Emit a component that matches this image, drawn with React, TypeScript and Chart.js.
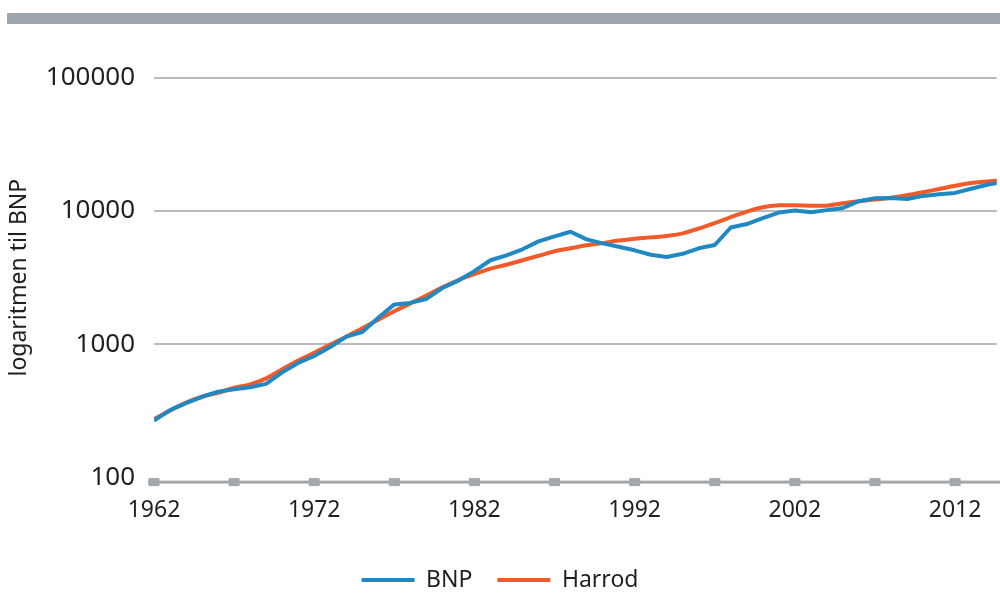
import React, { useEffect, useRef } from 'react';
import { Chart, registerables } from 'chart.js';

Chart.register(...registerables);

const years = [
  1962, 1963, 1964, 1965, 1966, 1967, 1968, 1969, 1970, 1971,
  1972, 1973, 1974, 1975, 1976, 1977, 1978, 1979, 1980, 1981,
  1982, 1983, 1984, 1985, 1986, 1987, 1988, 1989, 1990, 1991,
  1992, 1993, 1994, 1995, 1996, 1997, 1998, 1999, 2000, 2001,
  2002, 2003, 2004, 2005, 2006, 2007, 2008, 2009, 2010, 2011,
  2012, 2013, 2014, 2015,
];

const bnp = [
  268, 321, 362, 404, 441, 460, 476, 505, 616, 725,
  817, 953, 1141, 1237, 1580, 1992, 2045, 2189, 2644, 3006,
  3538, 4272, 4652, 5160, 5917, 6444, 6987, 6124, 5716, 5387,
  5070, 4693, 4520, 4776, 5250, 5556, 7520, 7984, 8828, 9727,
  10070, 9776, 10155, 10545, 11850, 12470, 12510, 12300, 12980, 13370,
  13670, 14690, 15740, 16560,
];

const harrod = [
  275, 318, 365, 404, 433, 472, 501, 555, 651, 756,
  864, 995, 1141, 1320, 1527, 1767, 2027, 2324, 2675, 3033,
  3360, 3692, 3955, 4273, 4614, 4985, 5250, 5525, 5740, 5998,
  6180, 6340, 6503, 6792, 7395, 8097, 8978, 9904, 10670, 11030,
  11030, 10970, 10970, 11450, 11850, 12190, 12590, 13130, 13830, 14610,
  15460, 16190, 16640, 17140,
];

const xTickLabels = [1962, 1972, 1982, 1992, 2002, 2012];
const xTickMarks = [1962, 1967, 1972, 1977, 1982, 1987, 1992, 1997, 2002, 2007, 2012];
const yTicks = [100, 1000, 10000, 100000];

const TEXT = '#231F20';
const FONT = '"Noto Sans", "Open Sans", sans-serif';
const BLUE = '#2089C2';
const ORANGE = '#F15A29';
const GRID = '#B7BBBF';
const AXIS = '#A2A8AC';

const decorPlugin = {
  id: 'decor',
  beforeDraw(chart: any) {
    const ctx = chart.ctx;
    ctx.save();
    ctx.fillStyle = '#9EA5AB';
    ctx.fillRect(7, 13, 993, 11);
    ctx.restore();
  },
  beforeDatasetsDraw(chart: any) {
    const ctx = chart.ctx;
    const xs = chart.scales.x;
    const area = chart.chartArea;
    const yAxis = area.bottom + 4.5;
    ctx.save();
    ctx.fillStyle = AXIS;
    ctx.fillRect(area.left - 6, yAxis - 1.5, chart.width - area.left + 6, 3);
    xTickMarks.forEach((yr) => {
      const px = xs.getPixelForValue(yr);
      ctx.fillRect(px - 5.5, yAxis - 4, 11, 8);
    });
    ctx.restore();
  },
};

export default function App() {
  const ref = useRef<HTMLCanvasElement>(null);

  useEffect(() => {
    document.body.style.margin = '0';
    if (!ref.current) return;
    const chart = new Chart(ref.current, {
      type: 'line',
      data: {
        datasets: [
          {
            label: 'BNP',
            data: bnp.map((v, i) => ({ x: years[i], y: v })),
            borderColor: BLUE,
            backgroundColor: BLUE,
            borderWidth: 4,
            pointRadius: 0,
            tension: 0,
            borderJoinStyle: 'round',
          },
          {
            label: 'Harrod',
            data: harrod.map((v, i) => ({ x: years[i], y: v })),
            borderColor: ORANGE,
            backgroundColor: ORANGE,
            borderWidth: 4,
            pointRadius: 0,
            tension: 0.4,
            borderJoinStyle: 'round',
          },
        ],
      },
      options: {
        responsive: false,
        animation: false,
        devicePixelRatio: 1,
        layout: { padding: { top: 77.7, bottom: -8.5, left: 0, right: 0 } },
        plugins: {
          tooltip: { enabled: false },
          legend: {
            position: 'bottom',
            labels: {
              usePointStyle: true,
              pointStyle: 'line',
              pointStyleWidth: 53,
              boxHeight: 4,
              padding: 25,
              color: TEXT,
              font: { family: FONT, size: 23 },
            },
          },
        },
        scales: {
          x: {
            type: 'linear',
            min: 1962,
            max: 2014.6,
            afterBuildTicks: (scale: any) => {
              scale.ticks = xTickLabels.map((v) => ({ value: v }));
            },
            afterFit: (scale: any) => {
              scale.height = 65.9;
            },
            grid: { display: false, drawTicks: false },
            border: { display: false },
            ticks: {
              color: TEXT,
              font: { family: FONT, size: 23 },
              padding: 18.6,
              maxRotation: 0,
              autoSkip: false,
              callback: (v: any) => String(v),
            },
          },
          y: {
            type: 'logarithmic',
            min: 100,
            max: 100000,
            afterBuildTicks: (scale: any) => {
              scale.ticks = yTicks.map((v) => ({ value: v }));
            },
            afterFit: (scale: any) => {
              scale.width = 154;
            },
            grid: {
              drawTicks: false,
              lineWidth: 2,
              color: (ctx: any) => (ctx.tick && ctx.tick.value === 100 ? 'rgba(0,0,0,0)' : GRID),
            },
            border: { display: false },
            ticks: {
              color: TEXT,
              font: { family: FONT, size: 26 },
              padding: 19,
              autoSkip: false,
              callback: (v: any) => String(v),
            },
            title: {
              display: true,
              text: 'logaritmen til BNP',
              color: TEXT,
              font: { family: FONT, size: 23 },
              padding: { top: 6, bottom: 0 },
            },
          },
        },
      },
      plugins: [decorPlugin],
    } as any);
    return () => chart.destroy();
  }, []);

  return (
    <div style={{ position: 'absolute', left: 0, top: 0, width: 1000, height: 593 }}>
      <canvas ref={ref} width={1000} height={593} style={{ display: 'block', width: 1000, height: 593 }} />
    </div>
  );
}
